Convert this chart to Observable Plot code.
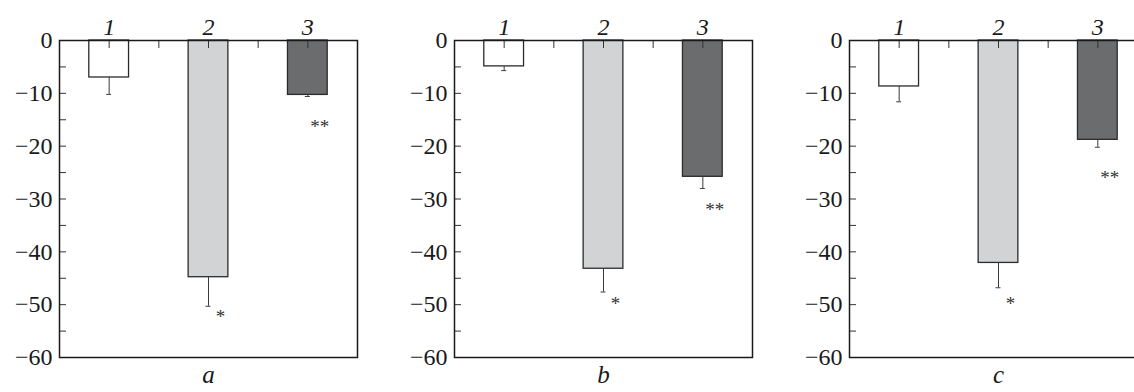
<!DOCTYPE html>
<html><head><meta charset="utf-8">
<script src="https://cdn.jsdelivr.net/npm/d3@7"></script>
<script src="https://cdn.jsdelivr.net/npm/@observablehq/plot@0.6"></script>
<style>
html,body{margin:0;padding:0;background:#fff;overflow:hidden;width:1134px;height:392px}
#chart svg {max-width:none !important; width:1160px;}
#chart svg, #chart svg text, #chart svg g {font-family: "Liberation Serif", "DejaVu Serif", serif !important;}
#chart g[aria-label="y-axis tick label"] {font-size:24px !important;}
#chart g[aria-label="x-axis tick label"] {font-size:24px !important; font-style:italic;}
#chart g[aria-label="fx-axis tick label"] {font-size:25px !important; font-style:italic;}
#chart g[aria-label="text"] {font-size:19px !important;}
</style>
</head><body><div id="chart"></div>
<script>
// Panels and groups
const panels = ["a", "b", "c"];
const groups = [1, 2, 3];
// Mean values (negative change) per panel, groups 1..3
const meanA = [-7.0, -44.8, -10.3];
const meanB = [-4.9, -43.2, -25.8];
const meanC = [-8.7, -42.1, -18.8];
// Lower end of error bars
const lowA = [-10.2, -50.3, -10.6];
const lowB = [-5.7, -47.6, -28.0];
const lowC = [-11.6, -46.8, -20.2];
// Significance marks
const starLabel = ["", "*", "**"];
const starA = [null, -52.0, -16.0];
const starB = [null, -49.4, -31.6];
const starC = [null, -49.4, -25.6];
// y ticks
const yMajor = d3.range(-60, 1, 10);
const yMinor = d3.range(-60, 1, 5);

const means = [meanA, meanB, meanC];
const lows = [lowA, lowB, lowC];
const stars = [starA, starB, starC];
const rows = [];
panels.forEach((p, pi) => groups.forEach((g, gi) => rows.push({
  panel: p, group: g, mean: means[pi][gi], low: lows[pi][gi],
  star: starLabel[gi], starY: stars[pi][gi]
})));
const starRows = rows.filter(d => d.starY != null);
const halfBar = 0.2, halfCap = 0.025;

const chart = Plot.plot({
  width: 1160, height: 392,
  marginLeft: 59, marginRight: 13, marginTop: 40, marginBottom: 35,
  fx: {domain: panels, paddingInner: 97 / 395, paddingOuter: 0, label: null},
  x: {domain: [0.5, 3.5], label: null},
  y: {domain: [-60, 0], label: null},
  color: {type: "ordinal", domain: groups, range: ["#ffffff", "#d2d3d5", "#6b6c6e"]},
  marks: [
    Plot.rectY(rows, {fx: "panel", x1: d => d.group - halfBar, x2: d => d.group + halfBar, y1: 0, y2: "mean",
      fill: "group", stroke: "#2b2b2b", strokeWidth: 1.3}),
    Plot.ruleX(rows, {fx: "panel", x: "group", y1: "mean", y2: "low", stroke: "#3a3a3a", strokeWidth: 1}),
    Plot.ruleY(rows, {fx: "panel", y: "low", x1: d => d.group - halfCap, x2: d => d.group + halfCap, stroke: "#3a3a3a", strokeWidth: 1}),
    Plot.text(starRows, {fx: "panel", x: "group", y: "starY", text: "star", dx: 12, dy: 2, fontSize: 19, fill: "#333"}),
    Plot.axisY({anchor: "left", ticks: yMinor, tickSize: -7, text: null, facetAnchor: null, stroke: "#333"}),
    Plot.axisY({anchor: "left", ticks: yMajor, tickSize: 0, tickPadding: 7, fontSize: 24, facetAnchor: null,
      tickFormat: d3.format("d"), label: null, fill: "#1a1a1a"}),
    Plot.axisX({anchor: "top", ticks: [1, 1.5, 2, 2.5, 3], tickSize: -7, text: null, stroke: "#333"}),
    Plot.axisX({anchor: "top", ticks: groups, tickSize: 0, tickPadding: 6, fontSize: 24, fontStyle: "italic",
      tickFormat: d => String(d), label: null, fill: "#1a1a1a"}),
    Plot.axisFx({anchor: "bottom", tickSize: 0, tickPadding: 8, fontSize: 25, fontStyle: "italic", label: null, fill: "#1a1a1a"}),
    Plot.frame({stroke: "#1a1a1a", strokeWidth: 1.5})
  ]
});
document.getElementById("chart").appendChild(chart);
</script>
</body></html>
